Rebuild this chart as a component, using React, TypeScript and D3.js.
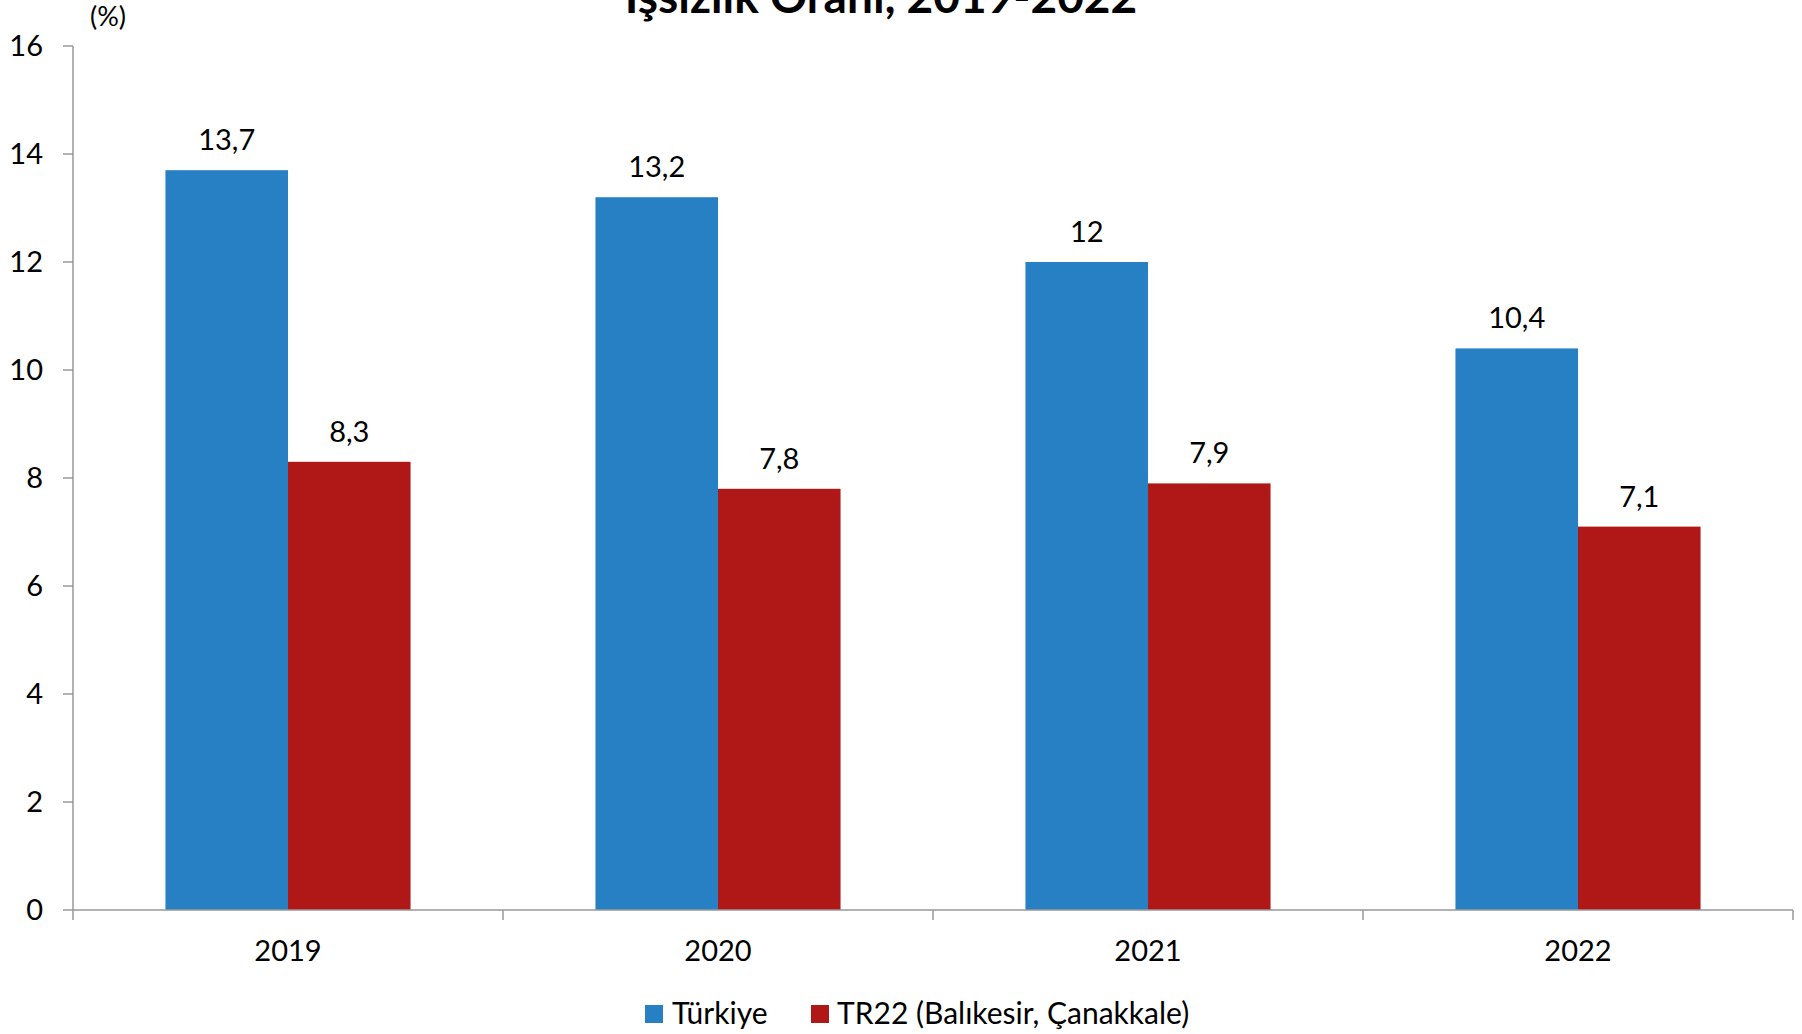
import React from "react";
import * as d3 from "d3";

const categories = ["2019", "2020", "2021", "2022"];
const turkiye = [13.7, 13.2, 12, 10.4];
const tr22 = [8.3, 7.8, 7.9, 7.1];
const seriesNames = ["Türkiye", "TR22 (Balıkesir, Çanakkale)"];
const yTicks = [0, 2, 4, 6, 8, 10, 12, 14, 16];
const title = "İşsizlik Oranı, 2019-2022";

const W = 1802, H = 1034;
const left = 73, right = 1793, top = 46, bottom = 910;
const colors = ["#2780C4", "#B01818"];
const font = "Lato, 'Open Sans', sans-serif";
const fmt = (v: number) => String(v).replace(".", ",");

export default function App() {
  const x = d3.scaleBand<string>().domain(categories).range([left, right]).padding(0);
  const y = d3.scaleLinear().domain([0, 16]).range([bottom, top]);
  const bw = x.bandwidth() * 0.285;
  const series = [turkiye, tr22];
  return (
    <svg width={W} height={H} style={{ position: "absolute", left: 0, top: 0, background: "#fff" }} fontFamily={font}>
      <text x={881} y={13} textAnchor="middle" fontSize={46} fontWeight="bold" fill="#000">{title}</text>
      <text x={108} y={26} textAnchor="middle" fontSize={27} fill="#000">(%)</text>
      {series.map((vals, si) =>
        vals.map((v, i) => {
          const cx = (x(categories[i]) as number) + x.bandwidth() / 2;
          const x0 = si === 0 ? cx - bw : cx;
          return (
            <g key={`${si}-${i}`}>
              <rect x={x0} y={y(v)} width={bw} height={y(0) - y(v)} fill={colors[si]} />
              <text x={x0 + bw / 2} y={y(v) - 20} textAnchor="middle" fontSize={29} fill="#000">{fmt(v)}</text>
            </g>
          );
        })
      )}
      <line x1={left} x2={left} y1={top} y2={bottom} stroke="#999" strokeWidth={1.5} />
      <line x1={left} x2={right} y1={bottom} y2={bottom} stroke="#999" strokeWidth={1.5} />
      {yTicks.map((t) => (
        <g key={t}>
          <line x1={left - 10} x2={left} y1={y(t)} y2={y(t)} stroke="#999" strokeWidth={1.5} />
          <text x={43} y={y(t) + 10} textAnchor="end" fontSize={29} fill="#000">{t}</text>
        </g>
      ))}
      {[...categories.map((c) => x(c) as number), right].map((px, i) => (
        <line key={i} x1={px} x2={px} y1={bottom} y2={bottom + 10} stroke="#999" strokeWidth={1.5} />
      ))}
      {categories.map((c) => (
        <text key={c} x={(x(c) as number) + x.bandwidth() / 2} y={961} textAnchor="middle" fontSize={29} fill="#000">{c}</text>
      ))}
      <rect x={645} y={1005} width={18} height={18} fill={colors[0]} />
      <text x={672} y={1024} fontSize={30} fill="#000">{seriesNames[0]}</text>
      <rect x={811} y={1005} width={18} height={18} fill={colors[1]} />
      <text x={837} y={1024} fontSize={30} fill="#000">{seriesNames[1]}</text>
    </svg>
  );
}
